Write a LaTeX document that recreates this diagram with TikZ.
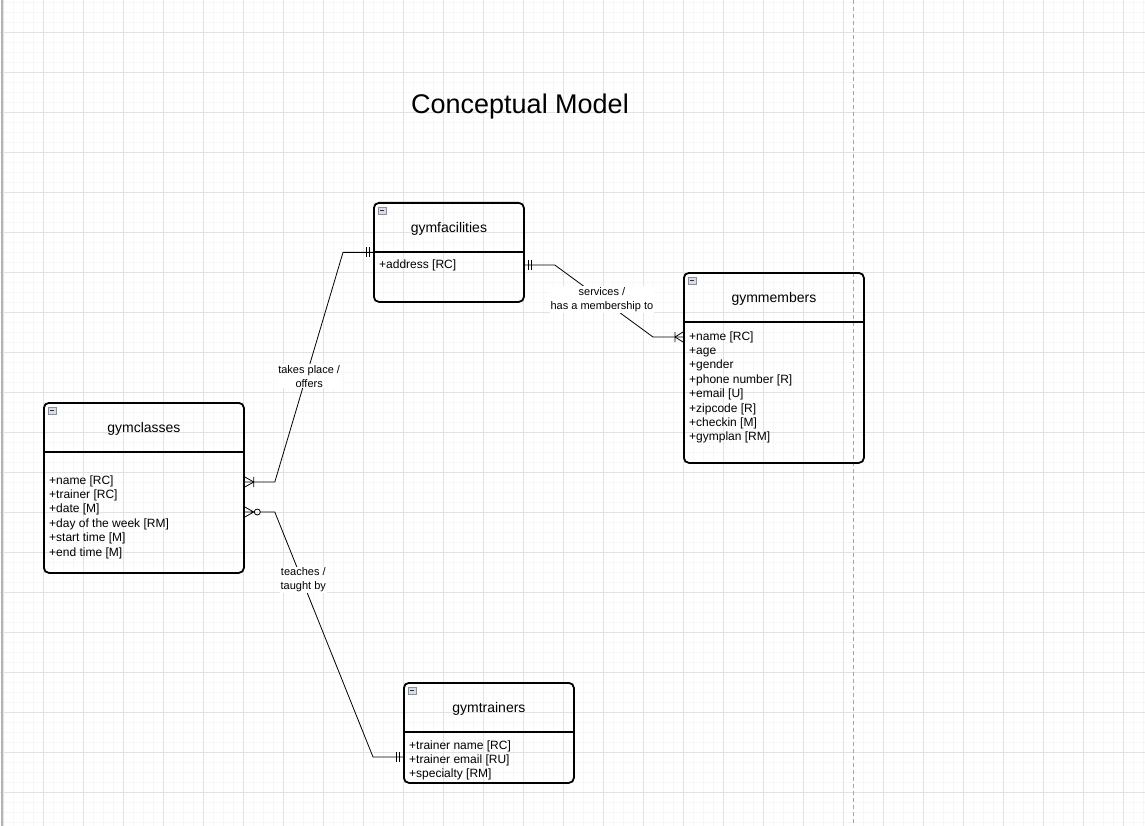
\documentclass[tikz,border=0pt]{standalone}
\usepackage{fontspec}
\setmainfont{Liberation Sans}
\usetikzlibrary{calc}
\definecolor{gridmajor}{HTML}{E2E2E2}
\definecolor{gridminor}{HTML}{F7F7F7}
\definecolor{iconfill}{HTML}{D8DCE4}
\definecolor{iconedge}{HTML}{8A8F99}
\tikzset{
  entity/.style={draw=black, line width=1.8pt, rounded corners=5pt, anchor=north west, inner sep=0pt},
  enttitle/.style={inner sep=0pt, font=\fontsize{14}{17}\selectfont},
  attr/.style={anchor=base west, inner sep=0pt, font=\fontsize{12}{14.4}\selectfont},
  rel/.style={draw=black, line width=0.8pt},
  rellabel/.style={fill=white, inner sep=1pt, align=center, font=\fontsize{11}{14}\selectfont},
}
\begin{document}
\begin{tikzpicture}[x=1pt, y=-1pt]
\useasboundingbox (0,0) rectangle (1145,826);
% background grid
\foreach \gx in {3,13,...,1143} \draw[gridminor, line width=0.8pt] (\gx,0) -- (\gx,826);
\foreach \gy in {2,12,...,822} \draw[gridminor, line width=0.8pt] (0,\gy) -- (1145,\gy);
\foreach \gx in {3,43,...,1123} \draw[gridmajor, line width=0.8pt] (\gx,0) -- (\gx,826);
\foreach \gy in {32,72,...,812} \draw[gridmajor, line width=0.8pt] (0,\gy) -- (1145,\gy);
\draw[gridmajor!80!black, line width=1.2pt] (2,0) -- (2,826);
\draw[black!35, line width=0.8pt, dash pattern=on 4pt off 3pt] (853,0) -- (853,826);

\node[font=\fontsize{27}{31}\selectfont] (title) at (520,107) {Conceptual Model};

% entities
\node[entity, minimum width=150pt, minimum height=99pt] (fac) at (373,202) {};
\node[entity, minimum width=180pt, minimum height=190pt] (mem) at (683,272) {};
\node[entity, minimum width=200pt, minimum height=170pt] (cls) at (43,402) {};
\node[entity, minimum width=170pt, minimum height=100pt] (trn) at (403,682) {};

\foreach \e in {fac,mem,cls,trn} {
  \draw[black, line width=1.8pt] ($(\e.north west)+(0,50)$) -- ($(\e.north east)+(0,50)$);
  \draw[iconedge, fill=iconfill, line width=0.6pt] ($(\e.north west)+(5,5)$) rectangle ++(8,7);
  \draw[black!80, line width=0.9pt] ($(\e.north west)+(7,8.5)$) -- ++(4,0);
}

\node[enttitle] (fac-t) at ($(fac.north)+(0,27)$) {gymfacilities};
\node[enttitle] (mem-t) at ($(mem.north)+(0,27)$) {gymmembers};
\node[enttitle] (cls-t) at ($(cls.north)+(0,27)$) {gymclasses};
\node[enttitle] (trn-t) at ($(trn.north)+(0,27)$) {gymtrainers};

\node[attr] (fac-1) at ($(fac.north west)+(6,67)$) {+address [RC]};
\foreach \a [count=\i] in {+name [RC],+age,+gender,+phone number [R],+email [U],+zipcode [R],+checkin [M],+gymplan [RM]}
  \node[attr] (mem-\i) at ($(mem.north west)+(6,{68+14.4*(\i-1)})$) {\a};
\foreach \a [count=\i] in {+name [RC],+trainer [RC],+date [M],+day of the week [RM],+start time [M],+end time [M]}
  \node[attr] (cls-\i) at ($(cls.north west)+(6,{82+14.4*(\i-1)})$) {\a};
\foreach \a [count=\i] in {+trainer name [RC],+trainer email [RU],+specialty [RM]}
  \node[attr] (trn-\i) at ($(trn.north west)+(6,{67+14.4*(\i-1)})$) {\a};

% relationships
\coordinate (c1) at ($(cls.north east)+(0,80)$);
\coordinate (c2) at ($(cls.north east)+(0,110)$);
\coordinate (f1) at (fac.west);
\coordinate (f2) at ($(fac.north east)+(0,63)$);
\coordinate (m1) at ($(mem.north west)+(0,65)$);
\coordinate (t1) at ($(trn.north west)+(0,75)$);

\draw[rel] (c1) -- ++(30,0) -- ($(f1)+(-30,0)$) node[rellabel, pos=0.46, xshift=3pt] (lab1) {takes place /\\offers} -- (f1);
\draw[rel] (f2) -- ++(30,0) -- ($(m1)+(-30,0)$) node[rellabel, pos=0.48] (lab2) {services /\\has a membership to} -- (m1);
\draw[rel] ($(c2)+(15,0)$) -- ++(15,0) -- ($(t1)+(-30,0)$) node[rellabel, pos=0.27, xshift=2pt, yshift=-2pt] (lab3) {teaches /\\taught by} -- (t1);

% cardinality marks
\draw[rel] ($(c1)+(9,0)$) -- ($(c1)+(0,-5)$) ($(c1)+(9,0)$) -- ($(c1)+(0,5)$) ($(c1)+(9,-5)$) -- ($(c1)+(9,5)$);
\draw[rel] ($(c2)+(9,0)$) -- ($(c2)+(0,-5)$) ($(c2)+(9,0)$) -- ($(c2)+(0,5)$) ($(c2)+(0,0)$) -- ($(c2)+(9.5,0)$);
\draw[rel] ($(c2)+(12.5,0)$) circle (3);
\draw[rel] ($(m1)+(-8,0)$) -- ($(m1)+(0,-5)$) ($(m1)+(-8,0)$) -- ($(m1)+(0,5)$) ($(m1)+(-8,-5)$) -- ($(m1)+(-8,5)$);
\foreach \dx in {7,4} {
  \draw[rel] ($(f1)+(-\dx,-5)$) -- ++(0,10);
  \draw[rel] ($(f2)+(\dx,-5)$) -- ++(0,10);
  \draw[rel] ($(t1)+(-\dx,-5)$) -- ++(0,10);
}
\end{tikzpicture}
\end{document}
